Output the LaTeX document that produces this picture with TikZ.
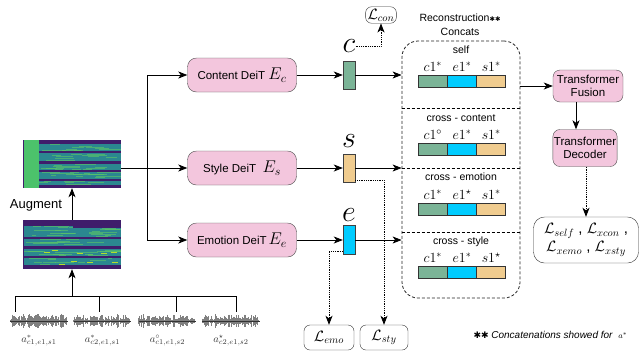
\RequirePackage{fix-cm}
\documentclass[tikz,border=0pt]{standalone}
\usepackage{amsmath}
\usepackage{amssymb}
\usepackage{fontspec}
\setmainfont{Liberation Sans}
\newfontfamily\starfont{DejaVu Sans}
\usetikzlibrary{calc}
\usetikzlibrary{positioning}
\usetikzlibrary{matrix}
\usetikzlibrary{arrows.meta}

\definecolor{encpink}{HTML}{F3C6DD}
\definecolor{cgreen}{HTML}{7BB497}
\definecolor{ecyan}{HTML}{00CCFF}
\definecolor{sorange}{HTML}{F0CC8F}
\definecolor{vpurple}{HTML}{3F1D6B}
\definecolor{vteal}{HTML}{2B8790}
\definecolor{vgreen}{HTML}{5DC863}
\definecolor{vlime}{HTML}{B5DD2B}
\definecolor{vband}{HTML}{4CC26B}

\tikzset{
	enc/.style={draw=black!70, fill=encpink, rounded corners=9pt, minimum width=109pt,
		minimum height=34pt, inner sep=2pt, font=\fontsize{11.5}{13}\selectfont},
	tfm/.style={enc, rounded corners=7pt, align=center, inner sep=1pt},
	vec/.style={draw=black!75, minimum width=12pt, minimum height=28pt, inner sep=0pt},
	loss/.style={draw=black!80, rounded corners=6pt, inner sep=2pt, font=\fontsize{15}{18}\selectfont},
	arr/.style={-{Stealth[length=9pt,width=7pt,inset=2.5pt]}, line width=0.8pt},
	dotarr/.style={arr, densely dotted, line width=0.9pt},
	lbl/.style={font=\fontsize{10.5}{14}\selectfont},
	letter/.style={font=\fontsize{30}{30}\selectfont, inner sep=0pt},
	wlab/.style={font=\fontsize{10.5}{12}\selectfont, text=black!80, inner sep=0pt},
	wavbox/.style={minimum width=57pt, minimum height=17pt, inner sep=0pt},
	concat/.style={matrix of math nodes, ampersand replacement=\&, nodes in empty cells,
		column sep=-0.8pt, row sep=2pt, matrix anchor=south,
		nodes={minimum width=29.2pt, inner sep=0pt, font=\fontsize{14}{14}\selectfont},
		row 1/.style={nodes={minimum height=13pt}},
		row 2/.style={nodes={draw=black!80, line width=0.8pt, minimum height=12pt}},
		row 2 column 1/.style={nodes={fill=cgreen}},
		row 2 column 2/.style={nodes={fill=ecyan}},
		row 2 column 3/.style={nodes={fill=sorange}}},
}

\begin{document}
\begin{tikzpicture}[x=1pt, y=-1pt]
	\useasboundingbox (0,0) rectangle (640,354);
	
	% encoders
	\node[enc] (content) at (242,75) {Content DeiT {\fontsize{17}{17}\selectfont$E_c$}};
	\node[enc] (style) at (242,168) {Style DeiT\ \ {\fontsize{17}{17}\selectfont$E_s$}};
	\node[enc] (emotion) at (242,240) {Emotion DeiT\,{\fontsize{17}{17}\selectfont$E_e$}};
	
	% spectrograms
	\node[minimum width=98pt, minimum height=49pt, inner sep=0pt] (specraw) at (72,244.5) {};
	\node[minimum width=98pt, minimum height=48pt, inner sep=0pt] (specaug) at (72,164) {};
	\begin{scope}[shift={(specraw.north west)}]
		\clip (0,0) rectangle (98,49);
		\fill[vteal] (0,0) rectangle (98,49);
		\pgfmathsetseed{7}
		\foreach \r in {1,...,70}{
			\pgfmathsetmacro{\yy}{1+rnd*47}
			\pgfmathsetmacro{\xa}{rnd*85}
			\pgfmathsetmacro{\ll}{4+rnd*25}
			\draw[vgreen, line width=0.7pt, opacity=0.6] (\xa,\yy) -- ++(\ll,0);
		}
		\foreach \r in {1,...,10}{
			\pgfmathsetmacro{\yy}{30+rnd*15}
			\pgfmathsetmacro{\xa}{20+rnd*70}
			\draw[vlime, line width=0.6pt] (\xa,\yy) -- ++(6,0);
		}
		\foreach \ya/\yb in {0/6,17/19,26/29,36/38,45/49}
			\fill[vpurple] (0,\ya) rectangle (98,\yb);
		\fill[vpurple] (50,6) rectangle (98,8);
		\fill[vpurple] (0,0) rectangle (1.5,49);
	\end{scope}
	\begin{scope}[shift={(specaug.north west)}]
		\clip (0,0) rectangle (98,48);
		\fill[vteal] (0,0) rectangle (98,48);
		\pgfmathsetseed{11}
		\foreach \r in {1,...,70}{
			\pgfmathsetmacro{\yy}{1+rnd*46}
			\pgfmathsetmacro{\xa}{16+rnd*70}
			\pgfmathsetmacro{\ll}{4+rnd*25}
			\draw[vgreen, line width=0.7pt, opacity=0.6] (\xa,\yy) -- ++(\ll,0);
		}
		\foreach \ya/\yb in {0/4,11/13,21/24,30/32,39/41,45/48}
			\fill[vpurple] (0,\ya) rectangle (98,\yb);
		\fill[vband] (1.5,0) rectangle (16,48);
		\fill[vpurple] (0,0) rectangle (1.5,48);
	\end{scope}
	
	% waveforms
	\node[wavbox] (wav1) at (39,321) {};
	\node[wavbox] (wav2) at (102.5,321) {};
	\node[wavbox] (wav3) at (167.5,321) {};
	\node[wavbox] (wav4) at (231,321) {};
	\pgfmathsetseed{3}
	\foreach \w in {wav1,wav2,wav3,wav4}{
		\foreach \k in {0,...,56}{
			\pgfmathsetmacro{\h}{(1.2+6*rnd)*(0.55+0.45*abs(sin(\k*23)))}
			\draw[black!50, line width=0.8pt] ([xshift=\k pt]\w.west) ++(0,-\h) -- ++(0,2*\h);
		}
		\draw[black!80, line width=0.6pt] (\w.west) -- (\w.east);
	}
	\node[wlab, below=5pt of wav1] (lab1) {$a^{*}_{c1,e1,s1}$};
	\node[wlab, below=5pt of wav2] (lab2) {$a^{*}_{c2,e1,s1}$};
	\node[wlab, below=5pt of wav3] (lab3) {$a^{\circ}_{c1,e1,s2}$};
	\node[wlab, below=5pt of wav4] (lab4) {$a^{\star}_{c2,e1,s2}$};
	
	% input tree
	\coordinate (tap1) at (15,296);
	\coordinate (tap2) at (99,296);
	\coordinate (tap3) at (176,296);
	\coordinate (tap4) at (236,296);
	\draw[line width=0.8pt] (tap1) -- (tap4);
	\foreach \i in {1,...,4}
		\draw[line width=0.8pt] (tap\i) -- (tap\i |- wav\i.north);
	\draw[arr] (specraw.south |- tap1) -- (specraw.south);
	\draw[arr] (specraw.north) -- (specaug.south);
	\node[font=\fontsize{13}{14}\selectfont] (augment) at (36,205) {Augment};
	
	\draw[arr] (specaug.east |- style.west) -- (style.west);
	\coordinate (split) at (147,168);
	\draw[line width=0.8pt] (split |- content.west) -- (split |- emotion.west);
	\draw[arr] (split |- content.west) -- (content.west);
	\draw[arr] (split |- emotion.west) -- (emotion.west);
	
	% embeddings
	\node[vec, fill=cgreen] (cvec) at (349,75) {};
	\node[vec, fill=sorange] (svec) at (349,168) {};
	\node[vec, fill=ecyan, minimum height=29pt] (evec) at (349,240) {};
	\node[letter] (clab) at (349,46.5) {$c$};
	\node[letter] (slab) at (349,141) {$s$};
	\node[letter] (elab) at (349,215) {$e$};
	\draw[arr] (content.east) -- (cvec.west);
	\draw[arr] (style.east) -- (svec.west);
	\draw[arr] (emotion.east) -- (evec.west);
	
	% losses on the embeddings
	\node[loss] (lcon) at (381,15) {$\mathcal{L}_{con}$};
	\node[loss, minimum width=50pt, minimum height=25pt] (lemo) at (329,337.5) {$\mathcal{L}_{emo}$};
	\node[loss, minimum width=48pt, minimum height=25pt] (lsty) at (384,337.5) {$\mathcal{L}_{sty}$};
	\draw[dotarr] (clab.east) -| (lcon.south);
	\draw[dotarr] ([yshift=2pt]svec.south east) -| (lsty.north);
	\draw[dotarr] ([yshift=3pt]evec.south west) -| (lemo.north);
	
	% reconstruction concats
	\node[draw=black!85, densely dashed, line width=0.8pt, rounded corners=16pt,
		minimum width=118pt, minimum height=257pt, inner sep=0pt] (recon) at (461,169.5) {};
	\node[lbl, align=center] (rtitle) at (460,25) {Reconstruction{\starfont\fontsize{6.5}{8}\selectfont ✱✱}\\Concats};
	\draw[arr] (cvec.east) -- (cvec.east -| recon.west);
	\draw[arr] (svec.east) -- (svec.east -| recon.west);
	\draw[arr] (evec.east) -- (evec.east -| recon.west);
	\coordinate (div1) at (461,108);
	\coordinate (div2) at (461,168);
	\coordinate (div3) at (461,232);
	\foreach \d in {div1,div2,div3}
		\draw[densely dashed, line width=0.8pt] (recon.west |- \d) -- (recon.east |- \d);
	\node[lbl] (selfttl) at (461,50) {self};
	\node[lbl] (xconttl) at (461,118) {cross - content};
	\node[lbl] (xemottl) at (461,177) {cross - emotion};
	\node[lbl] (xstyttl) at (461,242) {cross - style};
	\matrix[concat] (selfcat) at (462,91.5) { c1^{*} \& e1^{*} \& s1^{*} \\ \& \& \\ };
	\matrix[concat] (xconcat) at (462,159.5) { c1^{\circ} \& e1^{*} \& s1^{*} \\ \& \& \\ };
	\matrix[concat] (xemocat) at (462,219.5) { c1^{*} \& e1^{\star} \& s1^{*} \\ \& \& \\ };
	\matrix[concat] (xstycat) at (462,282.5) { c1^{*} \& e1^{*} \& s1^{\star} \\ \& \& \\ };
	
	% transformer
	\node[tfm, minimum width=70pt, minimum height=32pt] (fusion) at (588,86) {Transformer\\Fusion};
	\node[tfm, minimum width=64pt, minimum height=37pt] (decoder) at (585,148) {Transformer\\Decoder};
	\node[loss, rounded corners=11pt, minimum width=105pt, minimum height=46pt, align=center] (losses) at (586,240)
		{$\mathcal{L}_{self}$ , $\mathcal{L}_{xcon}$ ,\\ $\mathcal{L}_{xemo}$ , $\mathcal{L}_{xsty}$};
	\draw[arr] (recon.east |- fusion.west) -- (fusion.west);
	\draw[arr] ([xshift=-12pt]fusion.south) -- ([xshift=-12pt]fusion.south |- decoder.north);
	\draw[dotarr] ([xshift=1pt]decoder.south) -- ([xshift=1pt]decoder.south |- losses.north);
	
	\node[font=\fontsize{10}{12}\selectfont, anchor=west] (note) at (470,335)
		{{\starfont\fontsize{9}{10}\selectfont ✱✱} \textit{Concatenations showed for}\ \ {\fontsize{8}{9}\selectfont$a^{*}$}};
\end{tikzpicture}
\end{document}
